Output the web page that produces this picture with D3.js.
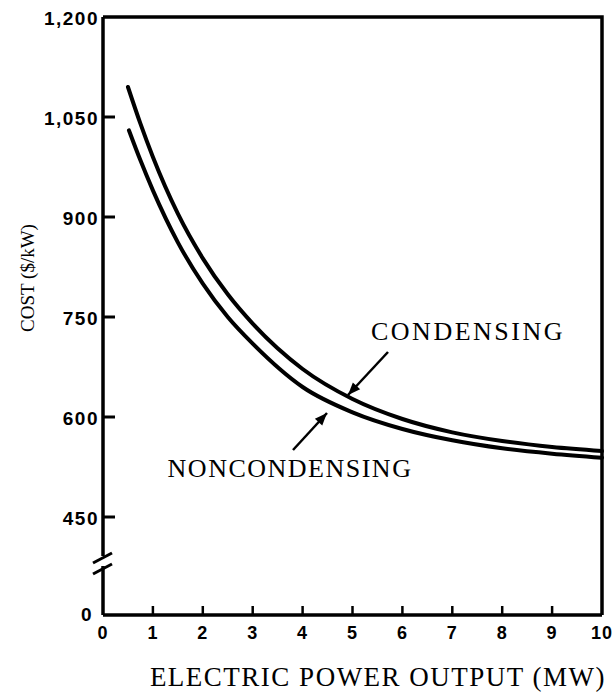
<!DOCTYPE html>
<meta charset="utf-8">
<script src="https://d3js.org/d3.v7.min.js"></script>
<style>
  body { margin: 0; background: #fff; }
  text { fill: #000; }
</style>
<div id="my_dataviz"></div>
<script>

// data (x in MW, cost in $/kW)
var condX = [0.5, 0.75, 1, 1.5, 2, 2.5, 3, 4, 5, 6, 7, 8, 9, 10];
var condY = [1095, 1040, 990, 905, 838, 784, 740, 672, 627, 597, 577, 564, 555, 549];
var noncondX = [0.52, 0.75, 1, 1.5, 2, 2.5, 3, 4, 5, 6, 7, 8, 9, 10];
var noncondY = [1030, 985, 940, 862, 800, 750, 710, 645, 607, 582, 565, 553, 545, 539];
var xTicks = [0, 1, 2, 3, 4, 5, 6, 7, 8, 9, 10];
var yTicks = [0, 450, 600, 750, 900, 1050, 1200];

var width = 616, height = 693;

var svg = d3.select("#my_dataviz")
  .append("svg")
    .attr("width", width)
    .attr("height", height);

// x scale
var x = d3.scaleLinear()
  .domain([0, 10])
  .range([103, 602]);

// y scale: the axis is broken between 0 and 450
var y = d3.scaleLinear()
  .domain([0, 450, 1200])
  .range([615, 517, 17]);

var tickFont = "'Liberation Sans', Arial, sans-serif";
var labelFont = "'Liberation Serif', 'Times New Roman', serif";

// frame: top and right
svg.append("path")
  .attr("d", "M" + x(0) + "," + y(1200) + "H" + x(10) + "V" + y(0))
  .attr("fill", "none")
  .attr("stroke", "#000")
  .attr("stroke-width", 3.5);

// bottom axis line
svg.append("line")
  .attr("x1", x(0)).attr("x2", x(10))
  .attr("y1", y(0)).attr("y2", y(0))
  .attr("stroke", "#000").attr("stroke-width", 3.5);

// left axis, with a gap for the break
svg.append("line")
  .attr("x1", x(0)).attr("x2", x(0))
  .attr("y1", y(1200)).attr("y2", 556)
  .attr("stroke", "#000").attr("stroke-width", 3.5);
svg.append("line")
  .attr("x1", x(0)).attr("x2", x(0))
  .attr("y1", 566).attr("y2", y(0))
  .attr("stroke", "#000").attr("stroke-width", 3.5);

// break marks
[558, 569].forEach(function(yy) {
  svg.append("line")
    .attr("x1", x(0) - 10).attr("y1", yy + 5)
    .attr("x2", x(0) + 9).attr("y2", yy - 5)
    .attr("stroke", "#000").attr("stroke-width", 3);
});

// y ticks (inward) and labels
svg.append("g").selectAll("line")
  .data(yTicks.filter(function(d) { return d > 0 && d < 1200; }))
  .enter().append("line")
    .attr("x1", x(0)).attr("x2", x(0) + 12)
    .attr("y1", function(d) { return y(d); })
    .attr("y2", function(d) { return y(d); })
    .attr("stroke", "#000").attr("stroke-width", 3);

svg.append("g").selectAll("text")
  .data(yTicks)
  .enter().append("text")
    .attr("x", function(d) { return d === 0 ? 93 : 99; })
    .attr("y", function(d) { return d === 0 ? y(d) - 1 : y(d) + 1; })
    .attr("dy", "0.35em")
    .attr("text-anchor", "end")
    .style("font-family", tickFont)
    .style("font-weight", "bold")
    .style("font-size", "19px")
    .style("letter-spacing", "1.5px")
    .text(function(d) { return d >= 1000 ? d3.format(",")(d) : d; });

// x ticks (inward) and labels
svg.append("g").selectAll("line")
  .data(xTicks.filter(function(d) { return d > 0 && d < 10; }))
  .enter().append("line")
    .attr("x1", function(d) { return x(d); })
    .attr("x2", function(d) { return x(d); })
    .attr("y1", y(0)).attr("y2", y(0) - 9)
    .attr("stroke", "#000").attr("stroke-width", 2.5);

svg.append("g").selectAll("text")
  .data(xTicks)
  .enter().append("text")
    .attr("x", function(d) { return x(d); })
    .attr("y", 639)
    .attr("text-anchor", "middle")
    .style("font-family", tickFont)
    .style("font-weight", "bold")
    .style("font-size", "18px")
    .style("letter-spacing", "1px")
    .text(function(d) { return d; });

// axis titles
svg.append("text")
  .attr("x", 378)
  .attr("y", 686)
  .attr("text-anchor", "middle")
  .style("font-family", labelFont)
  .style("font-size", "27px")
  .style("letter-spacing", "1.5px")
  .text("ELECTRIC POWER OUTPUT (MW)");

svg.append("text")
  .attr("transform", "translate(34,278) rotate(-90)")
  .attr("text-anchor", "middle")
  .style("font-family", labelFont)
  .style("font-size", "19px")
  .text("COST ($/kW)");

// curves
var line = d3.line()
  .x(function(d) { return x(d[0]); })
  .y(function(d) { return y(d[1]); })
  .curve(d3.curveMonotoneX);

svg.append("path")
  .datum(d3.zip(condX, condY))
  .attr("d", line)
  .attr("fill", "none")
  .attr("stroke", "#000")
  .attr("stroke-width", 4)
  .attr("stroke-linecap", "round");

svg.append("path")
  .datum(d3.zip(noncondX, noncondY))
  .attr("d", line)
  .attr("fill", "none")
  .attr("stroke", "#000")
  .attr("stroke-width", 4)
  .attr("stroke-linecap", "round");

// annotations with arrows
svg.append("defs").append("marker")
  .attr("id", "arrow")
  .attr("viewBox", "0 0 10 10")
  .attr("refX", 10).attr("refY", 5)
  .attr("markerWidth", 5.5).attr("markerHeight", 5)
  .attr("orient", "auto")
  .append("path")
    .attr("d", "M0,1L10,5L0,9Z")
    .attr("fill", "#000");

svg.append("text")
  .attr("x", 468).attr("y", 340)
  .attr("text-anchor", "middle")
  .style("font-family", labelFont)
  .style("font-size", "26px")
  .style("letter-spacing", "2.5px")
  .text("CONDENSING");

svg.append("line")
  .attr("x1", 388).attr("y1", 352)
  .attr("x2", 348).attr("y2", 395)
  .attr("stroke", "#000").attr("stroke-width", 2.5)
  .attr("marker-end", "url(#arrow)");

svg.append("text")
  .attr("x", 290).attr("y", 477)
  .attr("text-anchor", "middle")
  .style("font-family", labelFont)
  .style("font-size", "26px")
  .style("letter-spacing", "1.5px")
  .text("NONCONDENSING");

svg.append("line")
  .attr("x1", 293).attr("y1", 450)
  .attr("x2", 327).attr("y2", 413)
  .attr("stroke", "#000").attr("stroke-width", 2.5)
  .attr("marker-end", "url(#arrow)");

</script>
